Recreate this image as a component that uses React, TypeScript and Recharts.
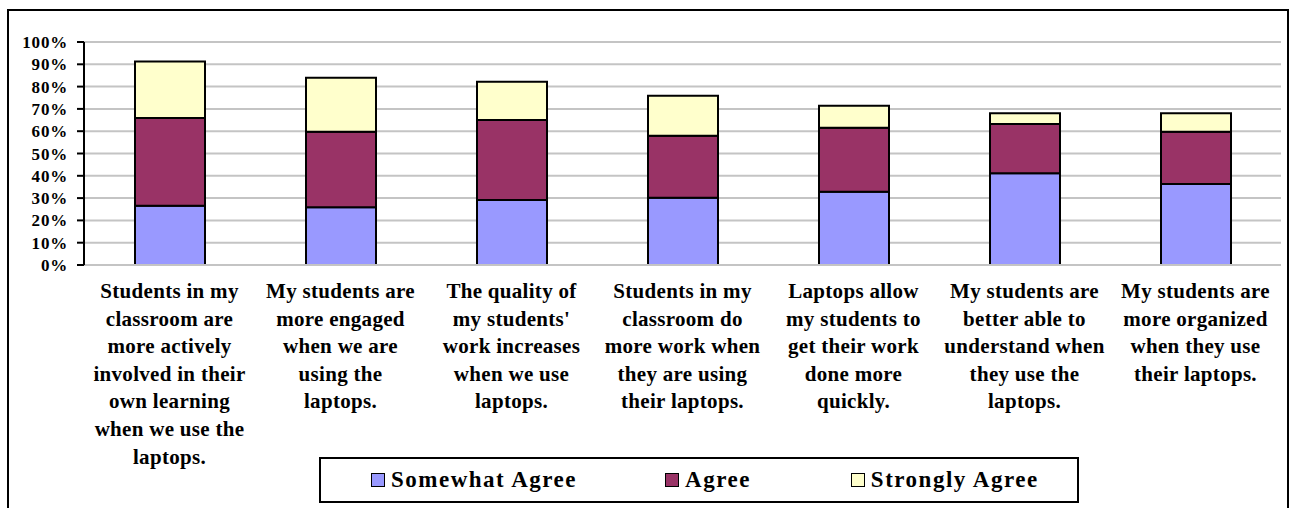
import { BarChart, Bar, XAxis, YAxis, CartesianGrid, Legend } from 'recharts';

const categories = [
  'Students in my\nclassroom are\nmore actively\ninvolved in their\nown learning\nwhen we use the\nlaptops.',
  'My students are\nmore engaged\nwhen we are\nusing the\nlaptops.',
  "The quality of\nmy students'\nwork increases\nwhen we use\nlaptops.",
  'Students in my\nclassroom do\nmore work when\nthey are using\ntheir laptops.',
  'Laptops allow\nmy students to\nget their work\ndone more\nquickly.',
  'My students are\nbetter able to\nunderstand when\nthey use the\nlaptops.',
  'My students are\nmore organized\nwhen they use\ntheir laptops.',
];

const somewhatAgree = [26.6, 25.9, 29.1, 30.2, 32.9, 41.1, 36.3];
const agree = [39.3, 33.9, 35.9, 27.8, 28.7, 22.1, 23.5];
const stronglyAgree = [25.3, 24.2, 17.2, 17.9, 9.8, 4.8, 8.2];

const seriesNames = ['Somewhat Agree', 'Agree', 'Strongly Agree'];
const seriesKeys = ['somewhat', 'agree', 'strongly'];
const seriesColors = ['#9999ff', '#993366', '#ffffcc'];
const legendGaps = [88, 100, 0];

const yTicks = [0, 10, 20, 30, 40, 50, 60, 70, 80, 90, 100];

const FONT = "'Liberation Serif', 'Times New Roman', serif";
const GRID = '#c4c4c4';

const data = categories.map((name, i) => ({
  name,
  somewhat: somewhatAgree[i],
  agree: agree[i],
  strongly: stronglyAgree[i],
}));

// multi-line category label under each bar
const CategoryTick = (props: any) => {
  const { x, y, payload } = props;
  const lines = String(payload.value).split('\n');
  return (
    <text x={x} y={y} textAnchor="middle" fill="#000" fontFamily={FONT} fontWeight="bold" fontSize={21} letterSpacing={0.3}>
      {lines.map((line, i) => (
        <tspan key={i} x={x} dy={i === 0 ? 25 : 27.6}>
          {line}
        </tspan>
      ))}
    </text>
  );
};

const LegendBox = () => (
  <div
    style={{
      boxSizing: 'border-box',
      height: 46,
      width: 760,
      border: '2px solid #000',
      background: '#fff',
      display: 'flex',
      alignItems: 'center',
      paddingLeft: 50,
      fontFamily: FONT,
      fontWeight: 'bold',
      fontSize: 23,
      letterSpacing: 1.5,
      color: '#000',
    }}
  >
    {seriesNames.map((name, i) => (
      <div key={name} style={{ display: 'flex', alignItems: 'center', marginRight: legendGaps[i] }}>
        <span
          style={{
            display: 'inline-block',
            boxSizing: 'border-box',
            width: 14,
            height: 14,
            border: '1.5px solid #000',
            background: seriesColors[i],
            marginRight: 6,
          }}
        />
        <span>{name}</span>
      </div>
    ))}
  </div>
);

export default function App() {
  return (
    <div style={{ position: 'absolute', left: 0, top: 0, width: 1292, height: 508, overflow: 'hidden', background: '#fff' }}>
      <div
        style={{
          position: 'absolute',
          left: 7,
          top: 9,
          width: 1282,
          height: 600,
          boxSizing: 'border-box',
          border: '2px solid #000',
        }}
      />
      <div style={{ position: 'absolute', left: 0, top: 0 }}>
        <BarChart
          width={1292}
          height={508}
          data={data}
          barSize={70}
          margin={{ top: 42, right: 11, left: 0, bottom: 5 }}
        >
          <CartesianGrid vertical={false} stroke={GRID} strokeWidth={2} />
          <XAxis
            dataKey="name"
            interval={0}
            height={192}
            tickLine={false}
            axisLine={{ stroke: GRID, strokeWidth: 2 }}
            tick={<CategoryTick />}
          />
          <YAxis
            width={84}
            domain={[0, 100]}
            ticks={yTicks}
            interval={0}
            tickFormatter={(v: number) => `${v}%`}
            axisLine={{ stroke: '#000', strokeWidth: 2 }}
            tickLine={{ stroke: '#000', strokeWidth: 2 }}
            tickSize={7}
            tickMargin={9}
            tick={{ fill: '#000', fontFamily: FONT, fontWeight: 'bold', fontSize: 17, letterSpacing: 0.8 }}
          />
          <YAxis
            yAxisId="right"
            orientation="right"
            width={0}
            domain={[0, 100]}
            tick={false}
            tickLine={false}
            axisLine={{ stroke: GRID, strokeWidth: 2 }}
          />
          <Legend
            verticalAlign="bottom"
            content={<LegendBox />}
            wrapperStyle={{ left: 319, bottom: 5, width: 760 }}
          />
          {seriesKeys.map((key, i) => (
            <Bar
              key={key}
              dataKey={key}
              name={seriesNames[i]}
              stackId="a"
              fill={seriesColors[i]}
              stroke="#000"
              strokeWidth={2}
              isAnimationActive={false}
            />
          ))}
        </BarChart>
      </div>
    </div>
  );
}
